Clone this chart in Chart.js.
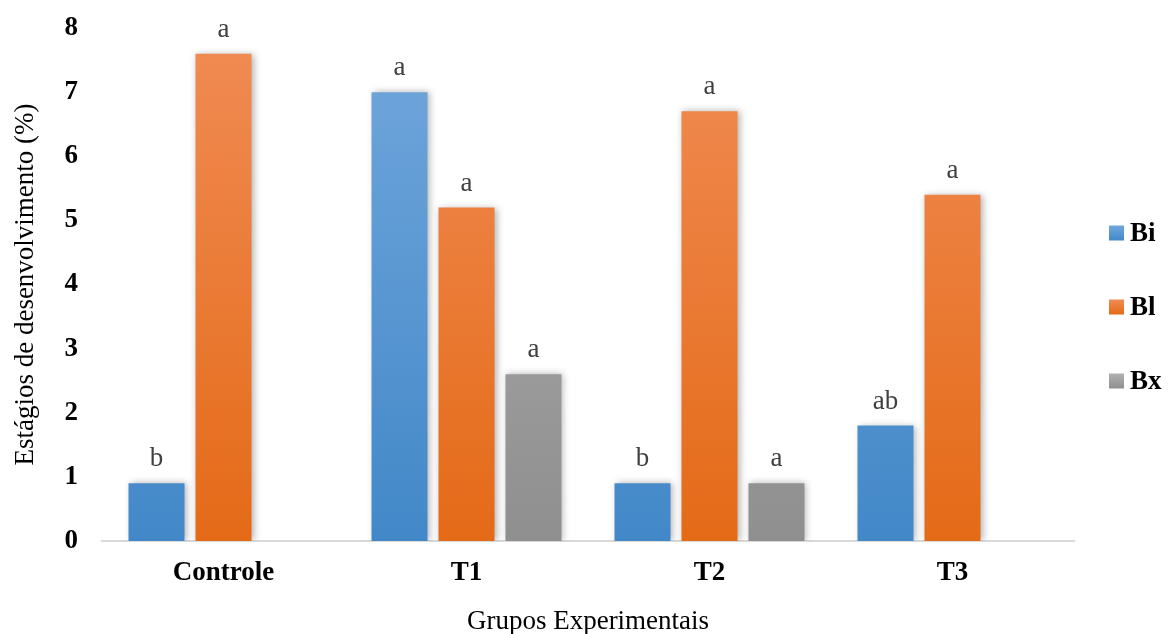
<!DOCTYPE html>
<html>
<head>
<meta charset="utf-8">
<script src="https://cdn.jsdelivr.net/npm/chart.js@4/dist/chart.umd.min.js"></script>
<style>
  html, body { margin: 0; padding: 0; background: #fff; }
  #wrap { width: 1172px; height: 634px; }
</style>
</head>
<body>
<div id="wrap"><canvas id="grafico"></canvas></div>
<script>
// dados
const grupos = ["Controle", "T1", "T2", "T3"]
const series = ["Bi", "Bl", "Bx"]
const valoresBi = [0.9, 7.0, 0.9, 1.8]
const valoresBl = [7.6, 5.2, 6.7, 5.4]
const valoresBx = [null, 2.6, 0.9, null]
const letrasBi = ["b", "a", "b", "ab"]
const letrasBl = ["a", "a", "a", "a"]
const letrasBx = ["", "a", "a", ""]
const yTicks = [0, 1, 2, 3, 4, 5, 6, 7, 8]

const SERIF = "'Liberation Serif', 'DejaVu Serif', serif"

// cores: topo e base do degrade
const cores = [
	["#72a7dc", "#4288c8"],
	["#f18c55", "#e46a17"],
	["#b1b1b1", "#8f8f8f"]
]

function degrade(i) {
	return function (ctx) {
		const area = ctx.chart.chartArea
		if (!area) return cores[i][1]
		const g = ctx.chart.ctx.createLinearGradient(0, area.top, 0, area.bottom)
		g.addColorStop(0, cores[i][0])
		g.addColorStop(1, cores[i][1])
		return g
	}
}

const letras = [letrasBi, letrasBl, letrasBx]

// sombra suave em volta das barras
var sombra = {
	id: "sombra",
	beforeDatasetDraw(chart) {
		const c = chart.ctx
		c.save()
		c.shadowColor = "rgba(0,0,0,0.3)"
		c.shadowBlur = 7
		c.shadowOffsetX = 2
		c.shadowOffsetY = 0
	},
	afterDatasetDraw(chart) {
		chart.ctx.restore()
	}
}

// letras acima das barras
var rotulos = {
	id: "rotulos",
	afterDatasetsDraw(chart) {
		const c = chart.ctx
		c.save()
		c.font = "27px " + SERIF
		c.fillStyle = "#404040"
		c.textAlign = "center"
		c.textBaseline = "alphabetic"
		chart.data.datasets.forEach((ds, i) => {
			const meta = chart.getDatasetMeta(i)
			meta.data.forEach((bar, j) => {
				if (ds.data[j] == null || !letras[i][j]) return
				c.fillText(letras[i][j], bar.x, bar.y - 17)
			})
		})
		c.restore()
	}
}

// legenda desenhada a mao, a direita
var legenda = {
	id: "legenda",
	afterDraw(chart) {
		const c = chart.ctx
		const x = chart.chartArea.right + 35
		const meio = chart.height / 2 - 10
		c.save()
		c.font = "bold 27px " + SERIF
		c.textBaseline = "middle"
		c.textAlign = "left"
		series.forEach((nome, i) => {
			const y = meio + (i - 1) * 74
			const g = c.createLinearGradient(0, y - 7.5, 0, y + 7.5)
			g.addColorStop(0, cores[i][0])
			g.addColorStop(1, cores[i][1])
			c.fillStyle = g
			c.fillRect(x, y - 7.5, 15, 15)
			c.fillStyle = "#000"
			c.fillText(nome, x + 21, y + 1)
		})
		c.restore()
	}
}

const valores = [valoresBi, valoresBl, valoresBx]

var grafico = new Chart(document.getElementById("grafico"), {
	type: "bar",
	data: {
		labels: grupos,
		datasets: series.map((nome, i) => ({
			label: nome,
			data: valores[i],
			backgroundColor: degrade(i),
			borderWidth: 0,
			barPercentage: 0.836,
			categoryPercentage: 0.827
		}))
	},
	options: {
		responsive: true,
		maintainAspectRatio: false,
		animation: false,
		layout: { padding: { top: 28, right: 98, left: 0, bottom: 0 } },
		plugins: {
			legend: { display: false },
			tooltip: { enabled: false }
		},
		scales: {
			x: {
				grid: { display: false, drawTicks: false },
				border: { display: true, color: "#d9d9d9", width: 2 },
				ticks: {
					color: "#000",
					font: { family: SERIF, size: 27, weight: "bold" },
					padding: 16,
					maxRotation: 0
				},
				title: {
					display: true,
					text: "Grupos Experimentais",
					color: "#000",
					font: { family: SERIF, size: 27 },
					padding: { top: 0, bottom: -4 }
				},
				afterFit(s) {
					s.height = 93
					s.paddingLeft = 0
					s.paddingRight = 0
				}
			},
			y: {
				min: 0,
				max: 8,
				afterBuildTicks(s) { s.ticks = yTicks.map(v => ({ value: v })) },
				grid: { display: false, drawTicks: false },
				border: { display: false },
				ticks: {
					color: "#000",
					font: { family: SERIF, size: 27, weight: "bold" },
					padding: 24
				},
				title: {
					display: true,
					text: "Estágios de desenvolvimento (%)",
					color: "#000",
					font: { family: SERIF, size: 27 },
					padding: { top: 10, bottom: 0 }
				},
				afterFit(s) {
					s.width = 102
					s.paddingTop = 0
					s.paddingBottom = 0
				}
			}
		}
	},
	plugins: [sombra, rotulos, legenda]
})
</script>
</body>
</html>
